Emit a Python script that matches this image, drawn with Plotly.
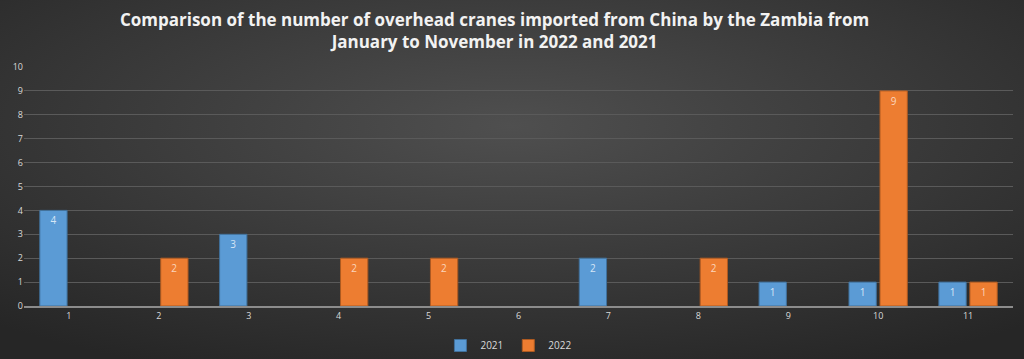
import plotly.graph_objects as go
import urllib.parse

months = ["1", "2", "3", "4", "5", "6", "7", "8", "9", "10", "11"]
values_2021 = [4, 0, 3, 0, 0, 0, 2, 0, 1, 1, 1]
values_2022 = [0, 2, 0, 2, 2, 0, 0, 2, 0, 9, 1]
series_names = ["2021", "2022"]
title_text = ("Comparison of the number of overhead cranes imported from China by the Zambia from"
              "<br>January to November in 2022 and 2021")

def nonzero(vals):
    return [v if v else None for v in vals]

def labels(vals):
    return [str(v) if v else "" for v in vals]

fig = go.Figure()
fig.add_trace(go.Bar(
    x=months, y=nonzero(values_2021), name=series_names[0],
    marker=dict(color="#5b9bd5", line=dict(color="#41719c", width=1)),
    text=labels(values_2021), textposition="inside", insidetextanchor="end",
    textfont=dict(color="#d6e6f5", size=10, family="Open Sans"),
    cliponaxis=False,
))
fig.add_trace(go.Bar(
    x=months, y=nonzero(values_2022), name=series_names[1],
    marker=dict(color="#ed7d31", line=dict(color="#ae5a21", width=1)),
    text=labels(values_2022), textposition="inside", insidetextanchor="end",
    textfont=dict(color="#fbd5bc", size=10, family="Open Sans"),
    cliponaxis=False,
))

W, H = 1024, 359
ML, MR, MT, MB = 24, 11, 67, 53
PW, PH = W - ML - MR, H - MT - MB

svg = ('<svg xmlns="http://www.w3.org/2000/svg" width="1024" height="359" viewBox="0 0 1024 359" preserveAspectRatio="none">'
       '<defs><radialGradient id="g" cx="0.5" cy="0.35" r="0.75">'
       '<stop offset="0" stop-color="#4f4f4f"/><stop offset="1" stop-color="#262626"/>'
       '</radialGradient></defs><rect width="1024" height="359" fill="url(#g)"/></svg>')
src = "data:image/svg+xml;charset=utf-8," + urllib.parse.quote(svg)

fig.update_layout(
    width=W, height=H,
    margin=dict(l=ML, r=MR, t=MT, b=MB, autoexpand=False),
    paper_bgcolor="#363636",
    plot_bgcolor="rgba(0,0,0,0)",
    images=[dict(source=src, xref="paper", yref="paper", x=-ML / PW, y=1 + MT / PH,
                 sizex=W / PW, sizey=H / PH, sizing="stretch", layer="below",
                 xanchor="left", yanchor="top")],
    title=dict(text=title_text, x=0.483, xanchor="center", xref="container",
               y=1 - 26 / H, yanchor="top", yref="container",
               font=dict(family="Open Sans", size=17, color="#f2f2f2", weight="bold")),
    barmode="group", bargap=0.31, bargroupgap=0.12,
    showlegend=True,
    legend=dict(orientation="h", x=0.497, xanchor="center", xref="container",
                y=1 - 331 / H, yanchor="top", yref="container",
                bgcolor="rgba(0,0,0,0)",
                font=dict(color="#d9d9d9", size=10, family="Open Sans"),
                itemwidth=30, traceorder="normal"),
    font=dict(family="Open Sans", color="#d9d9d9"),
    xaxis=dict(type="category", showgrid=False, showline=True, linecolor="#8c8c8c",
               linewidth=1.5, ticks="", tickfont=dict(size=9, color="#d9d9d9")),
    yaxis=dict(range=[0, 10], dtick=1, showgrid=True, gridcolor="#5a5a5a", gridwidth=1,
               zeroline=False, showline=False, ticks="",
               tickfont=dict(size=9, color="#d9d9d9")),
)

fig.write_html("out.html", config={"displayModeBar": False},
               post_script="document.body.style.margin='0';document.body.style.overflow='hidden';")
